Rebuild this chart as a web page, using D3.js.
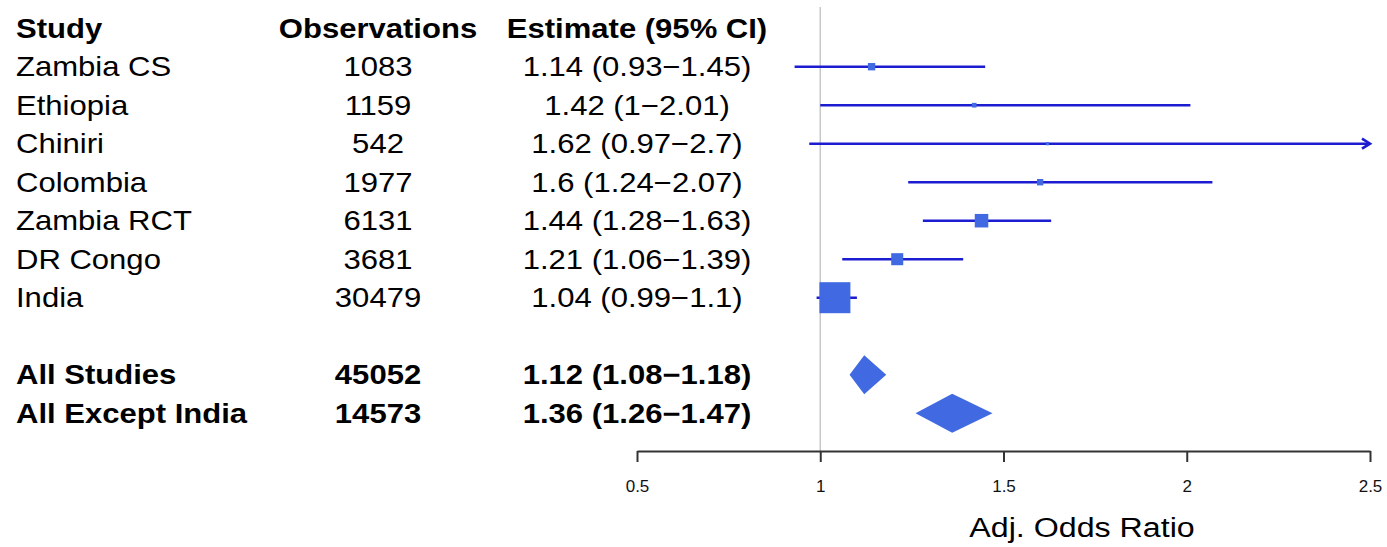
<!DOCTYPE html>
<html>
<head>
<meta charset="utf-8">
<script src="https://cdn.jsdelivr.net/npm/d3@7"></script>
<style>
  body { margin: 0; background: #fff; }
  svg { display: block; font-family: "Liberation Sans", Arial, sans-serif; }
</style>
</head>
<body>
<main></main>
<script>
// data
const studies = ['Zambia CS', 'Ethiopia', 'Chiniri', 'Colombia', 'Zambia RCT', 'DR Congo', 'India'];
const observations = [1083, 1159, 542, 1977, 6131, 3681, 30479];
const estimates = [1.14, 1.42, 1.62, 1.6, 1.44, 1.21, 1.04];
const lower = [0.93, 1, 0.97, 1.24, 1.28, 1.06, 0.99];
const upper = [1.45, 2.01, 2.7, 2.07, 1.63, 1.39, 1.1];

const summaryLabels = ['All Studies', 'All Except India'];
const summaryObservations = [45052, 14573];
const summaryEstimates = [1.12, 1.36];
const summaryLower = [1.08, 1.26];
const summaryUpper = [1.18, 1.47];

const headers = ['Study', 'Observations', 'Estimate (95% CI)'];
const tickValues = [0.5, 1, 1.5, 2, 2.5];
const axisTitle = 'Adj. Odds Ratio';

// layout
const width = 1387;
const height = 547;
const stretch = 1.15;        // text in the original is a little wide
const fontSize = 27;
const studyX = 16;
const obsX = 378;
const estX = 637;
const axisY = 451;
const maxBox = 31;
const diamondHalf = 19.5;
const lineColor = '#1c1cd0';
const boxColor = '#4169e1';

const svg = d3.select('main')
  .append('svg')
  .attr('width', width)
  .attr('height', height);

/************************************************************************
  scales
************************************************************************/
const xScale = d3.scaleLinear()
  .domain([0.5, 2.5])
  .range([637, 1370]);

// row 0 is the header, rows 1-7 the studies, row 8 blank, rows 9-10 summaries
const yScale = d3.scaleLinear()
  .domain([0, 10])
  .range([28.2, 413.2]);

// box side proportional to 1 / standard error
const precision = lower.map((lo, i) => 3.92 / (Math.log(upper[i]) - Math.log(lo)));
const boxScale = d3.scaleLinear()
  .domain([0, d3.max(precision)])
  .range([0, maxBox]);

const fmt = (e, lo, hi) => `${e} (${lo}\u2212${hi})`;

const rows = studies.map((s, i) => ({
  row: i + 1, label: s, obs: observations[i], est: estimates[i], lo: lower[i], hi: upper[i], bold: false
})).concat(summaryLabels.map((s, i) => ({
  row: 9 + i, label: s, obs: summaryObservations[i], est: summaryEstimates[i], lo: summaryLower[i], hi: summaryUpper[i], bold: true
})));

/************************************************************************
  reference line at 1
************************************************************************/
svg.append('line')
  .attr('x1', xScale(1))
  .attr('x2', xScale(1))
  .attr('y1', 7)
  .attr('y2', axisY)
  .attr('stroke', '#c8c8c8')
  .attr('stroke-width', 1.5);

/************************************************************************
  text table
************************************************************************/
const addText = (txt, x, y, anchor, bold, size) => {
  svg.append('text')
    .text(txt)
    .attr('transform', `translate(${x}, ${y}) scale(${stretch}, 1)`)
    .attr('dy', '0.36em')
    .attr('text-anchor', anchor)
    .attr('font-size', size || fontSize)
    .attr('font-weight', bold ? 'bold' : 'normal')
    .attr('fill', '#000');
};

addText(headers[0], studyX, yScale(0), 'start', true);
addText(headers[1], obsX, yScale(0), 'middle', true);
addText(headers[2], estX, yScale(0), 'middle', true);

rows.forEach(d => {
  addText(d.label, studyX, yScale(d.row), 'start', d.bold);
  addText(d.obs, obsX, yScale(d.row), 'middle', d.bold);
  addText(fmt(d.est, d.lo, d.hi), estX, yScale(d.row), 'middle', d.bold);
});

/************************************************************************
  confidence intervals and boxes
************************************************************************/
const studyRows = rows.filter(d => !d.bold);
const xMax = xScale.domain()[1];

svg.selectAll('line.ci')
  .data(studyRows)
  .enter()
  .append('line')
  .attr('class', 'ci')
  .attr('x1', d => xScale(d.lo))
  .attr('x2', d => xScale(Math.min(d.hi, xMax)))
  .attr('y1', d => yScale(d.row))
  .attr('y2', d => yScale(d.row))
  .attr('stroke', lineColor)
  .attr('stroke-width', 2.6);

// arrow heads where the interval runs off the axis
svg.selectAll('path.arrow')
  .data(studyRows.filter(d => d.hi > xMax))
  .enter()
  .append('path')
  .attr('class', 'arrow')
  .attr('d', d => {
    const x = xScale(xMax), y = yScale(d.row);
    return `M${x - 8},${y - 5}L${x},${y}L${x - 8},${y + 5}`;
  })
  .attr('fill', 'none')
  .attr('stroke', lineColor)
  .attr('stroke-width', 2.6);

svg.selectAll('rect.box')
  .data(studyRows)
  .enter()
  .append('rect')
  .attr('class', 'box')
  .attr('x', (d, i) => xScale(d.est) - boxScale(precision[i]) / 2)
  .attr('y', (d, i) => yScale(d.row) - boxScale(precision[i]) / 2)
  .attr('width', (d, i) => boxScale(precision[i]))
  .attr('height', (d, i) => boxScale(precision[i]))
  .attr('fill', boxColor);

// summary diamonds
svg.selectAll('path.diamond')
  .data(rows.filter(d => d.bold))
  .enter()
  .append('path')
  .attr('class', 'diamond')
  .attr('d', d => {
    const y = yScale(d.row);
    return `M${xScale(d.lo)},${y}L${xScale(d.est)},${y - diamondHalf}L${xScale(d.hi)},${y}L${xScale(d.est)},${y + diamondHalf}Z`;
  })
  .attr('fill', boxColor);

/************************************************************************
  x axis
************************************************************************/
const xAxis = d3.axisBottom(xScale)
  .tickValues(tickValues)
  .tickFormat(d => d)
  .tickSize(11)
  .tickSizeOuter(0)
  .tickPadding(17.6);

const axisG = svg.append('g')
  .attr('transform', `translate(0, ${axisY})`)
  .call(xAxis);

axisG.selectAll('path, line')
  .attr('stroke', '#333')
  .attr('stroke-width', 2);

axisG.selectAll('text')
  .attr('font-size', 17)
  .attr('font-family', '"Liberation Sans", Arial, sans-serif')
  .attr('fill', '#111');

addText(axisTitle, 1082, 526.5, 'middle', false, 28);
</script>
</body>
</html>
